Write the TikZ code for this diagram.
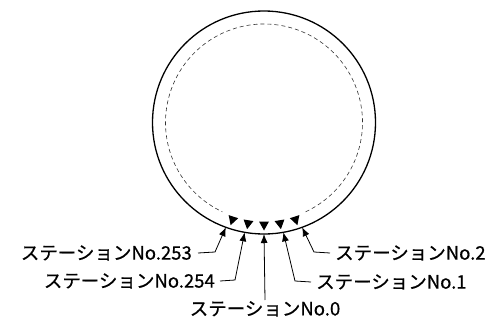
\documentclass[tikz,border=0pt]{standalone}
\usepackage{fontspec}
\newfontfamily\jp[FakeBold=0.6]{Noto Sans CJK JP}
\usetikzlibrary{arrows.meta,calc}
\begin{document}
\begin{tikzpicture}[x=1pt,y=1pt,
  lbl/.style={inner xsep=5pt,inner ysep=0pt,font=\jp\fontsize{18.5pt}{18.5pt}\selectfont},
  leader/.style={line width=0.8pt,-{Latex[length=9pt,width=7pt]}},
  tri/.style={fill=black}]
\useasboundingbox (0,0) rectangle (493,-324);
\coordinate (C) at (264,-122.5);
\draw[line width=1.3pt] (C) circle[radius=111.5pt];
\draw[line width=0.6pt,dash pattern=on 4pt off 3pt,black!80]
  ($(C)+(-65:98.5pt)$) arc[start angle=-65,end angle=245,radius=98.5pt];
\foreach \a in {-108,-99,-90,-81,-72}{
  \fill[tri] ($(C)+(\a:108pt)$) -- ($(C)+(\a:99pt)+(\a+90:5pt)$) -- ($(C)+(\a:99pt)+(\a-90:5pt)$) -- cycle;
}
\coordinate (p253) at ($(C)+(-110:111.5pt)$);
\coordinate (p254) at ($(C)+(-100:111.5pt)$);
\coordinate (p0)   at ($(C)+(-90:111.5pt)$);
\coordinate (p1)   at ($(C)+(-80:111.5pt)$);
\coordinate (p2)   at ($(C)+(-70:111.5pt)$);
\coordinate (b253) at (215,-252);
\coordinate (b254) at (235,-280);
\coordinate (b1)   at (295,-281);
\coordinate (b2)   at (314,-252);
\node[lbl,anchor=east,inner xsep=6pt] (l253) at (198,-253) {ステーションNo.253};
\node[lbl,anchor=east] (l254) at (220,-281) {ステーションNo.254};
\node[lbl,anchor=north,inner ysep=1pt] (l0) at (265,-300) {ステーションNo.0};
\node[lbl,anchor=west] (l1) at (311,-282) {ステーションNo.1};
\node[lbl,anchor=west] (l2) at (330,-253) {ステーションNo.2};
\draw[leader] (l253.east) -- (b253) -- (p253);
\draw[leader] (l254.east) -- (b254) -- (p254);
\draw[leader] (l0.north) -- (p0);
\draw[leader] (l1.west) -- (b1) -- (p1);
\draw[leader] (l2.west) -- (b2) -- (p2);
\end{tikzpicture}
\end{document}
